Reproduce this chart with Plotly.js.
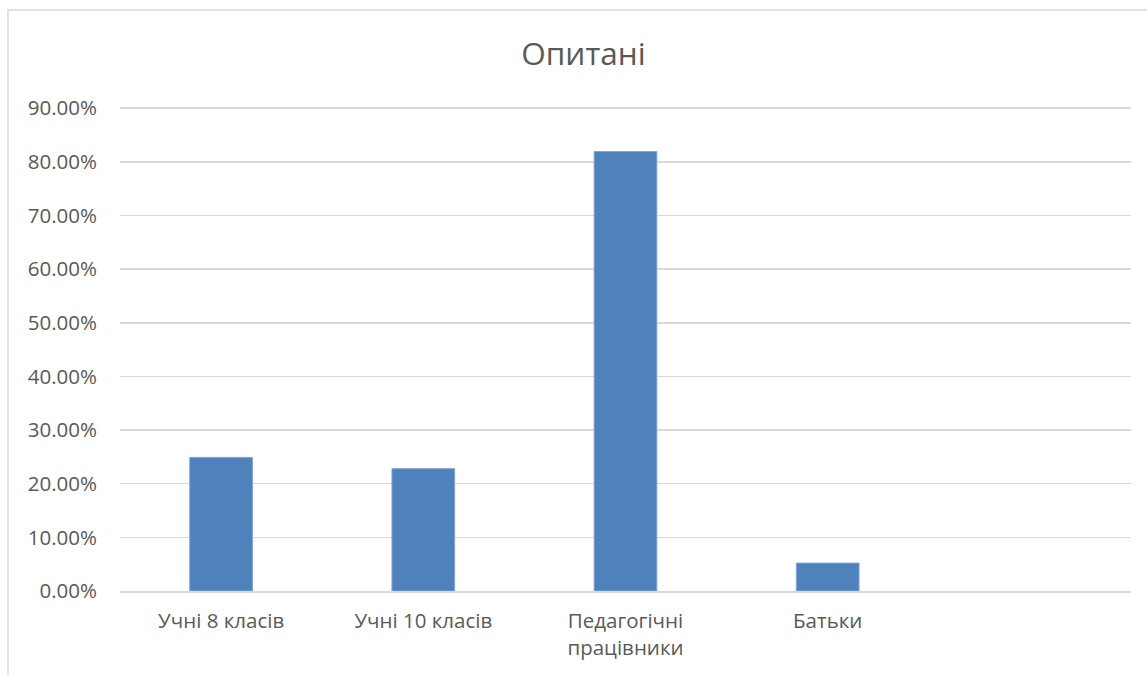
<!DOCTYPE html>
<html>
<head>
<meta charset="utf-8">
<script src="https://cdn.plot.ly/plotly-3.0.1.min.js"></script>
<style>html,body{margin:0;padding:0;background:#fff;}#chart{width:1147px;height:675px;}</style>
</head>
<body>
<div id="chart"></div>
<script>
const categories = ["Учні 8 класів", "Учні 10 класів", "Педагогічні<br>працівники", "Батьки"];
const values = [0.249, 0.228, 0.819, 0.052];
const yTickVals = [0, 0.1, 0.2, 0.3, 0.4, 0.5, 0.6, 0.7, 0.8, 0.9];
const yTickText = ["0.00%", "10.00%", "20.00%", "30.00%", "40.00%", "50.00%", "60.00%", "70.00%", "80.00%", "90.00%"];
const chartTitle = "Опитані";

const trace = {
  type: "bar",
  x: categories,
  y: values,
  width: 0.31,
  marker: {color: "#4f81bd", line: {color: "#7fa3d0", width: 1}},
  hoverinfo: "x+y"
};

const layout = {
  width: 1147,
  height: 675,
  margin: {l: 120, r: 16, t: 106, b: 84},
  paper_bgcolor: "#ffffff",
  plot_bgcolor: "#ffffff",
  showlegend: false,
  title: {
    text: chartTitle,
    font: {family: "Open Sans, sans-serif", size: 31.5, color: "#595959"},
    xref: "container", yref: "container",
    x: 0.5087, xanchor: "center",
    y: 0.92, yanchor: "middle"
  },
  font: {family: "Open Sans, sans-serif", color: "#595959"},
  xaxis: {
    type: "category",
    categoryorder: "array",
    categoryarray: categories,
    range: [-0.5, 4.5],
    showgrid: false,
    showline: true,
    linecolor: "#d9d9d9",
    linewidth: 1.5,
    ticks: "",
    tickfont: {size: 20.5, color: "#595959"},
    ticklabelstandoff: 11,
    fixedrange: true
  },
  yaxis: {
    range: [0, 0.904],
    tickvals: yTickVals,
    ticktext: yTickText,
    showgrid: true,
    gridcolor: "#d9d9d9",
    gridwidth: 1.5,
    zeroline: false,
    showline: false,
    ticks: "",
    tickfont: {size: 20.5, color: "#595959"},
    ticklabelstandoff: 22,
    fixedrange: true
  },
  shapes: [{
    type: "rect",
    xref: "paper", yref: "paper",
    x0: -0.1108, x1: 1.2, y0: -0.3, y1: 1.198,
    line: {color: "#d9d9d9", width: 1.5},
    fillcolor: "rgba(0,0,0,0)",
    layer: "below"
  }]
};

Plotly.newPlot("chart", [trace], layout, {displayModeBar: false, staticPlot: true});
</script>
</body>
</html>
